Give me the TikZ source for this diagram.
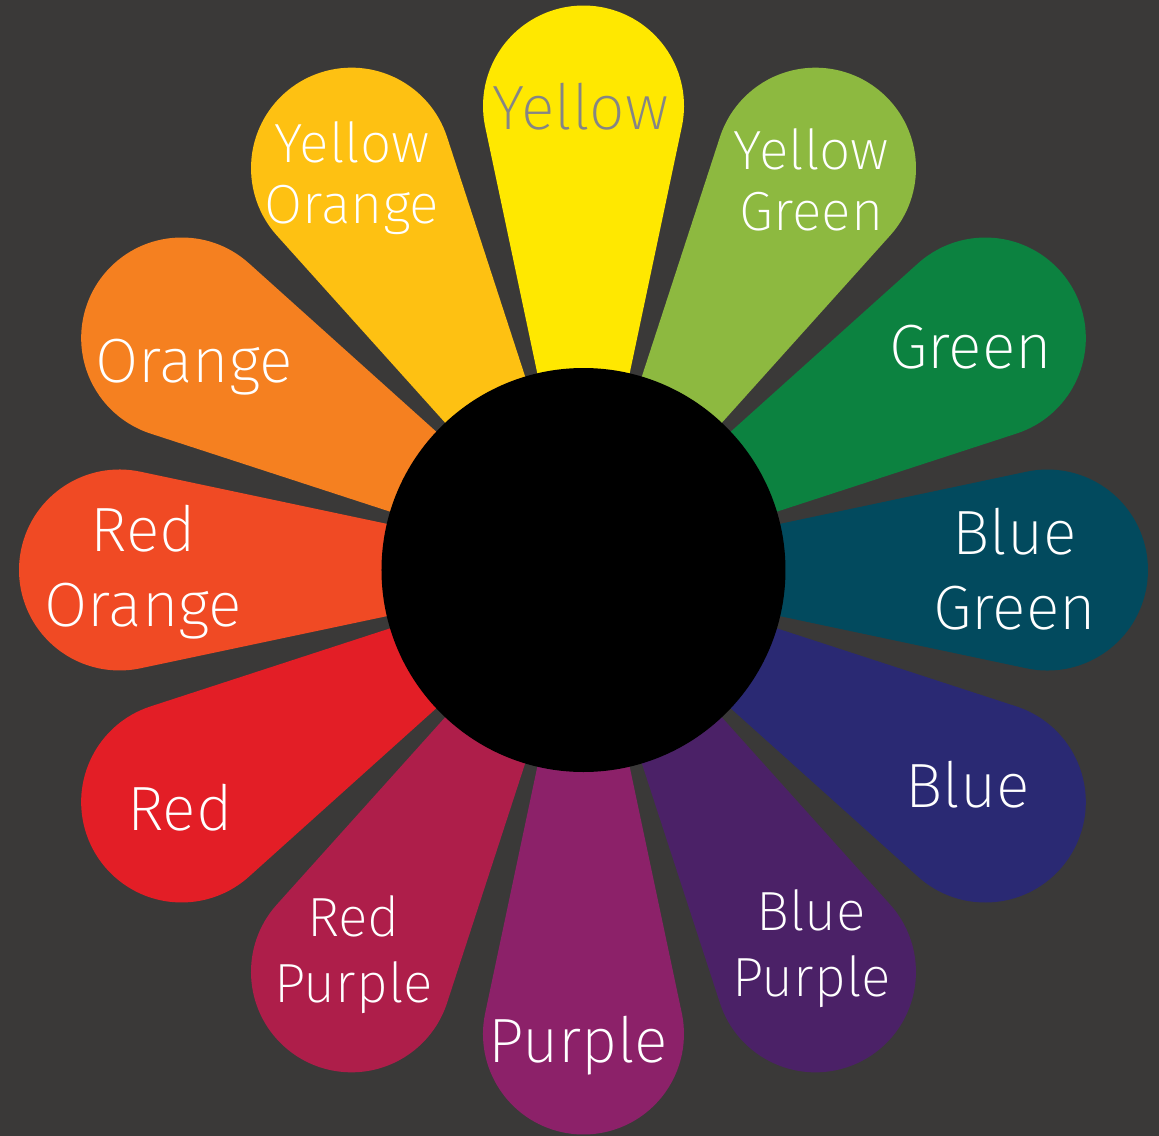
\documentclass[tikz,border=0pt]{standalone}
\usepackage{fontspec}
\newfontfamily\wheelfont{Fira Sans}[UprightFont={* ExtraLight}]

\definecolor{bgdark}{HTML}{3A3938}
\definecolor{cyellow}{HTML}{FFE800}
\definecolor{cyelloworange}{HTML}{FEC112}
\definecolor{corange}{HTML}{F58020}
\definecolor{credorange}{HTML}{F04A24}
\definecolor{cred}{HTML}{E31E26}
\definecolor{credpurple}{HTML}{AE1E4A}
\definecolor{cpurple}{HTML}{8C2169}
\definecolor{cbluepurple}{HTML}{4B2167}
\definecolor{cblue}{HTML}{2A2973}
\definecolor{cbluegreen}{HTML}{024A5E}
\definecolor{cgreen}{HTML}{0C8240}
\definecolor{cyellowgreen}{HTML}{8DB940}
\definecolor{ctextgray}{HTML}{858585}

\begin{document}
\begin{tikzpicture}[
 petal/.style={fill=#1, insert path={(1.5,-0.363) -- (4.432,-0.9833) arc[start angle=-101.94, end angle=101.94, radius=1.005] -- (1.5,0.363) -- cycle}},
 hub/.style={circle, fill=black, minimum size=4.04cm, inner sep=0pt},
 bigtext/.style={text=white, inner sep=0pt, align=center, font=\wheelfont\fontsize{17.8}{21.3}\selectfont},
 smalltext/.style={text=white, inner sep=0pt, align=center, font=\wheelfont\fontsize{15.7}{17.3}\selectfont}
 ]
 % Background
 \useasboundingbox (-5.835,-5.66) rectangle (5.755,5.70);
 \fill[bgdark] (-5.835,-5.66) rectangle (5.755,5.70);

 % Petals
 \fill[rotate=90, petal=cyellow];
 \fill[rotate=60, petal=cyellowgreen];
 \fill[rotate=30, petal=cgreen];
 \fill[rotate=0, petal=cbluegreen];
 \fill[rotate=-30, petal=cblue];
 \fill[rotate=-60, petal=cbluepurple];
 \fill[rotate=-90, petal=cpurple];
 \fill[rotate=-120, petal=credpurple];
 \fill[rotate=-150, petal=cred];
 \fill[rotate=180, petal=credorange];
 \fill[rotate=150, petal=corange];
 \fill[rotate=120, petal=cyelloworange];

 % Center
 \node[hub] (hub) at (0,0) {};

 % Labels
 \node[bigtext, text=ctextgray] (yellow) at (-0.03,4.635) {Yellow};
 \node[smalltext] (yelloworange) at (-2.315,3.915) {Yellow\\Orange};
 \node[smalltext] (yellowgreen) at (2.28,3.90) {Yellow\\Green};
 \node[bigtext] (orange) at (-3.895,2.025) {Orange};
 \node[bigtext] (green) at (3.87,2.225) {Green};
 \node[bigtext] (redorange) at (-4.40,-0.025) {Red\\Orange};
 \node[bigtext] (bluegreen) at (4.31,0.005) {Blue\\Green};
 \node[bigtext] (red) at (-4.035,-2.38) {Red};
 \node[bigtext] (blue) at (3.84,-2.145) {Blue};
 \node[smalltext] (redpurple) at (-2.30,-3.845) {Red\\[1.5pt]Purple};
 \node[smalltext] (bluepurple) at (2.28,-3.785) {Blue\\[1.5pt]Purple};
 \node[bigtext] (purple) at (-0.05,-4.755) {Purple};
\end{tikzpicture}
\end{document}
